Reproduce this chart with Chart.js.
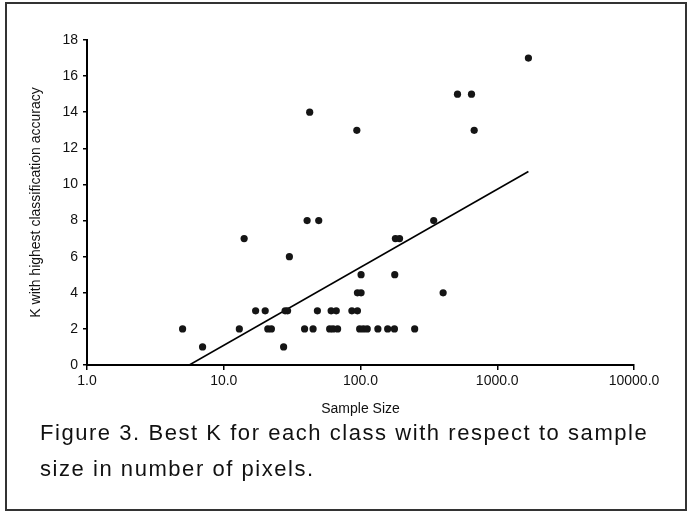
<!DOCTYPE html>
<html>
<head>
<meta charset="utf-8">
<script src="https://cdn.jsdelivr.net/npm/chart.js@4"></script>
<style>
    html, body { margin: 0; padding: 0; background: #fff; }
    #frame {
        position: absolute; left: 5px; top: 2px; width: 682px; height: 509px;
        border: 2px solid #333; box-sizing: border-box;
    }
    #chart { position: absolute; left: 0; top: 0; }
    #caption {
        position: absolute; left: 40px; top: 415px;
        font-family: "Liberation Sans", Arial, sans-serif; font-size: 22px;
        letter-spacing: 1.55px; line-height: 36px; color: #111; white-space: nowrap;
    }
</style>
</head>
<body>
<div id="frame"></div>
<canvas id="chart" width="691" height="420"></canvas>
<div id="caption">Figure 3. Best K for each class with respect to sample<br>size in number of pixels.</div>
<script>
// sample size (pixels) and best K
const sampleSize = [
    5.0, 13, 21, 22.3, 39, 45, 59.5, 63, 68, 98.6, 105, 112, 134, 158, 177, 249,
    7.0, 27.4,
    17.1, 20.1, 28.1, 29.3, 48.4, 61, 66.5, 86.5, 95,
    95, 101, 402,
    101, 178,
    30.2,
    14.1, 180, 193,
    40.7, 49.5, 343,
    94, 678,
    42.5,
    512, 648,
    1690
];
const bestK = [
    2, 2, 2, 2, 2, 2, 2, 2, 2, 2, 2, 2, 2, 2, 2, 2,
    1, 1,
    3, 3, 3, 3, 3, 3, 3, 3, 3,
    4, 4, 4,
    5, 5,
    6,
    7, 7, 7,
    8, 8, 8,
    13, 13,
    14,
    15, 15,
    17
];
// log trendline end points
const trendX = [5.6, 1690];
const trendY = [0, 10.72];

const xTicks = [1, 10, 100, 1000, 10000];
const yMin = 0, yMax = 18, yStep = 2;

const tickFont = { family: '"Liberation Sans", Arial, sans-serif', size: 14 };

const points = sampleSize.map((v, i) => ({ x: v, y: bestK[i] }));
const trend = trendX.map((v, i) => ({ x: v, y: trendY[i] }));

new Chart(document.getElementById('chart'), {
    type: 'scatter',
    data: {
        datasets: [
            {
                label: 'Best K', data: points,
                pointRadius: 3.6, pointBackgroundColor: '#151515', pointBorderWidth: 0
            },
            {
                label: 'Trend', data: trend, showLine: true,
                borderColor: '#000', borderWidth: 1.6, pointRadius: 0
            }
        ]
    },
    options: {
        responsive: false, animation: false,
        layout: { padding: { top: 40, right: 57, bottom: 0, left: 0 } },
        plugins: { legend: { display: false }, tooltip: { enabled: false } },
        scales: {
            x: {
                type: 'logarithmic', min: 1, max: 10000,
                afterBuildTicks: s => { s.ticks = xTicks.map(v => ({ value: v })); },
                afterFit: s => { s.height = 55; },
                ticks: { callback: v => Number(v).toFixed(1), font: tickFont, color: '#111', padding: 3, maxRotation: 0 },
                grid: { drawOnChartArea: false, drawTicks: true, tickLength: 5, color: '#000', lineWidth: 1.5 },
                border: { color: '#000', width: 2 },
                title: { display: true, text: 'Sample Size', font: tickFont, color: '#111', padding: { top: 4, bottom: 2 } }
            },
            y: {
                min: yMin, max: yMax,
                afterFit: s => { s.width = 87; },
                ticks: { stepSize: yStep, font: tickFont, color: '#111', padding: 5 },
                grid: { drawOnChartArea: false, drawTicks: true, tickLength: 4, color: '#000', lineWidth: 1.5 },
                border: { color: '#000', width: 2 },
                title: {
                    display: true, text: 'K with highest classification accuracy',
                    font: tickFont, color: '#111', padding: { top: 28, bottom: 0 }
                }
            }
        }
    }
});
</script>
</body>
</html>
